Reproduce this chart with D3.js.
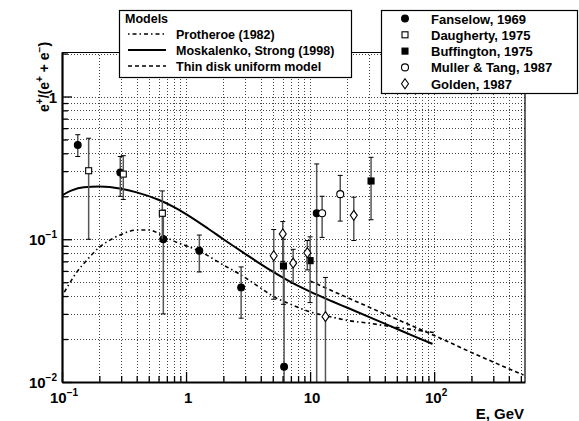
<!DOCTYPE html>
<html>
<head>
<meta charset="utf-8">
<script src="https://cdn.jsdelivr.net/npm/d3@7"></script>
<style>
body { margin: 0; background: #fff; }
svg text { font-family: "Liberation Sans", Arial, Helvetica, sans-serif; font-weight: bold; fill: #000; }
</style>
</head>
<body>
<div id="chart"></div>
<script>
'use strict';

// measured points: [E (GeV), ratio, lower end of error bar, upper end of error bar]
var fanselow = [
    [0.134, 0.457, 0.38, 0.54],
    [0.295, 0.294, 0.20, 0.38],
    [0.656, 0.100, 0.030, 0.16],
    [1.28, 0.083, 0.059, 0.107],
    [2.78, 0.046, 0.028, 0.064],
    [6.17, 0.0128, 0.005, 0.065],
    [11.3, 0.152, 0.005, 0.337]
];
var daugherty = [
    [0.164, 0.302, 0.10, 0.51],
    [0.312, 0.286, 0.19, 0.385],
    [0.644, 0.152, 0.10, 0.218]
];
var buffington = [
    [6.1, 0.065, 0.035, 0.10],
    [10.0, 0.0708, 0.036, 0.104],
    [31, 0.256, 0.137, 0.375]
];
var muller = [
    [12.5, 0.152, 0.103, 0.20],
    [17.5, 0.207, 0.134, 0.28]
];
var golden = [
    [5.09, 0.0767, 0.038, 0.117],
    [6.02, 0.109, 0.07, 0.133],
    [7.3, 0.068, 0.049, 0.085],
    [9.5, 0.0805, 0.061, 0.098],
    [13.3, 0.0287, 0.005, 0.054],
    [22.5, 0.147, 0.098, 0.197]
];

// model curves
var protheroeE = [0.1, 0.11, 0.13, 0.16, 0.2, 0.25, 0.3, 0.4, 0.5, 0.65, 0.8, 1, 1.3, 2, 2.7, 4, 5, 7, 10, 15, 20, 30, 44, 60, 80, 100];
var protheroeR = [0.040, 0.046, 0.058, 0.072, 0.088, 0.1, 0.108, 0.116, 0.116, 0.106, 0.097, 0.09, 0.082, 0.066, 0.057, 0.0455, 0.040, 0.035, 0.031, 0.0285, 0.027, 0.0258, 0.0245, 0.0236, 0.0228, 0.0222];
var moskalenkoE = [0.1, 0.12, 0.15, 0.2, 0.3, 0.4, 0.6, 0.8, 1, 1.5, 2, 3, 4, 5, 7, 10, 15, 20, 44, 70, 97];
var moskalenkoR = [0.203, 0.220, 0.231, 0.234, 0.226, 0.213, 0.189, 0.168, 0.150, 0.119, 0.1, 0.079, 0.067, 0.0593, 0.0501, 0.043, 0.0368, 0.0331, 0.0247, 0.0208, 0.0185];
var thinDiskE = [10, 20, 50, 100, 200, 525];
var thinDiskR = [0.051, 0.039, 0.0275, 0.0212, 0.0161, 0.0112];

var xMajor = [0.1, 1, 10, 100];
var xTickLabels = ['10^−1', '1', '10', '10^2'];
var yMajor = [0.01, 0.1, 1];
var yTickLabels = ['10^−2', '10^−1', '1'];

var modelNames = ['Protheroe (1982)', 'Moskalenko, Strong (1998)', 'Thin disk uniform model'];
var dataNames = ['Fanselow, 1969', 'Daugherty, 1975', 'Buffington, 1975', 'Muller & Tang, 1987', 'Golden, 1987'];

var myApp = {};

myApp.width = 579;
myApp.height = 421;
myApp.margins = {top: 52, bottom: 39, left: 62, right: 54};
myApp.cw = myApp.width - myApp.margins.left - myApp.margins.right;
myApp.ch = myApp.height - myApp.margins.top - myApp.margins.bottom;

myApp.x = d3.scaleLog().domain([0.1, 540]).range([0, myApp.cw]);
myApp.y = d3.scaleLog().domain([0.01, 2.05]).range([myApp.ch, 0]);

myApp.minorTicks = function(domain)
{
    var out = [];
    for (var p = Math.floor(Math.log10(domain[0])); p <= Math.ceil(Math.log10(domain[1])); p++) {
        for (var m = 2; m <= 9; m++) {
            var v = m * Math.pow(10, p);
            if (v > domain[0] && v < domain[1]) out.push(v);
        }
    }
    return out;
}

myApp.appendSvg = function(div)
{
    var svg = d3.select(div).append('svg')
        .attr('width', myApp.width)
        .attr('height', myApp.height);
    svg.append('defs').append('clipPath').attr('id', 'plotClip')
        .append('rect').attr('width', myApp.cw).attr('height', myApp.ch);
    myApp.svg = svg;
    return svg;
}

myApp.appendPlotGroup = function(svg)
{
    var plot = svg.append('g')
        .attr('transform', 'translate(' + myApp.margins.left + ',' + myApp.margins.top + ')');
    myApp.plot = plot;
    return plot;
}

myApp.drawGrid = function(plot)
{
    var x = myApp.x, y = myApp.y;
    var xs = xMajor.concat(myApp.minorTicks(x.domain())).filter(function(v){ return v > 0.1; });
    var ys = yMajor.concat(myApp.minorTicks(y.domain())).filter(function(v){ return v > 0.01; });
    var g = plot.append('g').attr('class', 'grid')
        .style('stroke', '#444').style('stroke-width', 1).style('stroke-dasharray', '1,2');
    g.selectAll('line.gx').data(xs).enter().append('line')
        .attr('x1', function(d){ return Math.round(x(d)) + 0.5; })
        .attr('x2', function(d){ return Math.round(x(d)) + 0.5; })
        .attr('y1', 0).attr('y2', myApp.ch);
    g.selectAll('line.gy').data(ys).enter().append('line')
        .attr('y1', function(d){ return Math.round(y(d)) + 0.5; })
        .attr('y2', function(d){ return Math.round(y(d)) + 0.5; })
        .attr('x1', 0).attr('x2', myApp.cw);
}

myApp.drawCurve = function(plot, es, rs, dash, width)
{
    var pts = es.map(function(e, i){ return [e, rs[i]]; });
    var line = d3.line()
        .x(function(d){ return myApp.x(d[0]); })
        .y(function(d){ return myApp.y(d[1]); })
        .curve(d3.curveMonotoneX);
    plot.append('path')
        .datum(pts)
        .attr('clip-path', 'url(#plotClip)')
        .attr('d', line)
        .style('fill', 'none')
        .style('stroke', '#000')
        .style('stroke-width', width)
        .style('stroke-dasharray', dash);
}

myApp.drawMarker = function(g, type, cx, cy)
{
    if (type === 'fcircle' || type === 'ocircle') {
        g.append('circle').attr('cx', cx).attr('cy', cy)
            .attr('r', type === 'fcircle' ? 3.4 : 3.5)
            .style('fill', type === 'fcircle' ? '#000' : '#fff')
            .style('stroke', '#000').style('stroke-width', 1.1);
    } else if (type === 'fsquare' || type === 'osquare') {
        g.append('rect').attr('x', cx - 3).attr('y', cy - 3)
            .attr('width', 6).attr('height', 6)
            .style('fill', type === 'fsquare' ? '#000' : '#fff')
            .style('stroke', '#000').style('stroke-width', 1.1);
    } else {
        g.append('path')
            .attr('d', 'M' + cx + ',' + (cy - 5) + 'L' + (cx + 3.5) + ',' + cy +
                       'L' + cx + ',' + (cy + 5) + 'L' + (cx - 3.5) + ',' + cy + 'Z')
            .style('fill', '#fff').style('stroke', '#000').style('stroke-width', 1.1);
    }
}

myApp.drawSeries = function(plot, data, type)
{
    var x = myApp.x, y = myApp.y;
    var bars = plot.append('g').attr('clip-path', 'url(#plotClip)');
    data.forEach(function(d){
        var px = x(d[0]);
        bars.append('line')
            .attr('x1', px).attr('x2', px)
            .attr('y1', y(d[2])).attr('y2', y(d[3]))
            .style('stroke', '#555').style('stroke-width', 1.5);
        [d[2], d[3]].forEach(function(v){
            bars.append('line')
                .attr('x1', px - 2.5).attr('x2', px + 2.5)
                .attr('y1', y(v)).attr('y2', y(v))
                .style('stroke', '#000').style('stroke-width', 1);
        });
    });
    var marks = plot.append('g');
    data.forEach(function(d){
        myApp.drawMarker(marks, type, x(d[0]), y(d[1]));
    });
}

myApp.powerLabel = function(text, label)
{
    var parts = label.split('^');
    text.append('tspan').text(parts[0]);
    if (parts.length > 1) {
        text.append('tspan').attr('dy', -7).style('font-size', '10px').text(parts[1]);
    }
}

myApp.drawAxes = function(plot)
{
    var x = myApp.x, y = myApp.y;

    var gx = plot.append('g').attr('transform', 'translate(0,' + myApp.ch + ')');
    gx.call(d3.axisBottom(x).tickValues(xMajor).tickSize(-10).tickSizeOuter(0).tickFormat(''));
    gx.append('g').call(d3.axisBottom(x).tickValues(myApp.minorTicks(x.domain())).tickSize(-6).tickSizeOuter(0).tickFormat(''))
        .select('.domain').remove();
    gx.selectAll('.domain').style('stroke-width', 2.2);
    gx.selectAll('.tick line').style('stroke-width', 1.3);

    var gy = plot.append('g');
    gy.call(d3.axisLeft(y).tickValues(yMajor).tickSize(-10).tickSizeOuter(0).tickFormat(''));
    gy.append('g').call(d3.axisLeft(y).tickValues(myApp.minorTicks(y.domain())).tickSize(-6).tickSizeOuter(0).tickFormat(''))
        .select('.domain').remove();
    gy.selectAll('.domain').style('stroke-width', 2.2);
    gy.selectAll('.tick line').style('stroke-width', 1.3);

    xMajor.forEach(function(v, i){
        var t = plot.append('text')
            .attr('x', x(v) + 2).attr('y', myApp.ch + 21)
            .attr('text-anchor', 'middle')
            .style('font-size', '15px');
        myApp.powerLabel(t, xTickLabels[i]);
    });
    yMajor.forEach(function(v, i){
        var t = plot.append('text')
            .attr('x', -5).attr('y', y(v) + 6)
            .attr('text-anchor', 'end')
            .style('font-size', '15px');
        myApp.powerLabel(t, yTickLabels[i]);
    });

    // frame top and right
    plot.append('path')
        .attr('d', 'M0,0.5H' + myApp.cw + 'V' + myApp.ch)
        .style('fill', 'none').style('stroke', '#000').style('stroke-width', 1.2);

    plot.append('text')
        .attr('x', myApp.cw - 1).attr('y', myApp.ch + 37)
        .attr('text-anchor', 'end')
        .style('font-size', '15px')
        .text('E, GeV');

    var yt = plot.append('text')
        .attr('transform', 'translate(-13,60) rotate(-90)')
        .attr('text-anchor', 'start')
        .style('font-size', '14px');
    yt.append('tspan').text('e');
    yt.append('tspan').attr('dy', -6).style('font-size', '10px').text('+');
    yt.append('tspan').attr('dy', 6).text('/(e');
    yt.append('tspan').attr('dy', -6).style('font-size', '10px').text('+');
    yt.append('tspan').attr('dy', 6).text(' + e');
    yt.append('tspan').attr('dy', -6).style('font-size', '10px').text('−');
    yt.append('tspan').attr('dy', 6).text(')');
}

myApp.drawLegends = function(svg)
{
    var models = svg.append('g').attr('transform', 'translate(119,10)');
    models.append('rect').attr('x', 0.5).attr('y', 0.5).attr('width', 232).attr('height', 67)
        .style('fill', '#fff').style('stroke', '#000').style('stroke-width', 1.2);
    models.append('text').attr('x', 6).attr('y', 13).style('font-size', '12.5px').text('Models');
    var styles = [{dash: '1.5,3,4,3', w: 1.6}, {dash: null, w: 2}, {dash: '4,3', w: 1.6}];
    modelNames.forEach(function(name, i){
        var cy = 24 + i * 16;
        models.append('line').attr('x1', 9).attr('x2', 47).attr('y1', cy).attr('y2', cy)
            .style('stroke', '#000').style('stroke-width', styles[i].w)
            .style('stroke-dasharray', styles[i].dash);
        models.append('text').attr('x', 57).attr('y', cy + 4.5).style('font-size', '12.5px').text(name);
    });

    var dataBox = svg.append('g').attr('transform', 'translate(381,10)');
    dataBox.append('rect').attr('x', 0.5).attr('y', 0.5).attr('width', 196).attr('height', 83)
        .style('fill', '#fff').style('stroke', '#000').style('stroke-width', 1.2);
    var types = ['fcircle', 'osquare', 'fsquare', 'ocircle', 'odiamond'];
    dataNames.forEach(function(name, i){
        var cy = 8.5 + i * 16.3;
        myApp.drawMarker(dataBox, types[i], 24, cy);
        dataBox.append('text').attr('x', 50).attr('y', cy + 5).style('font-size', '13px').text(name);
    });
}

myApp.run = function()
{
    var svg = myApp.appendSvg('#chart');
    var plot = myApp.appendPlotGroup(svg);
    myApp.drawGrid(plot);
    myApp.drawCurve(plot, protheroeE, protheroeR, '1.5,3,4,3', 1.6);
    myApp.drawCurve(plot, moskalenkoE, moskalenkoR, null, 2);
    myApp.drawCurve(plot, thinDiskE, thinDiskR, '4,3', 1.6);
    myApp.drawSeries(plot, fanselow, 'fcircle');
    myApp.drawSeries(plot, daugherty, 'osquare');
    myApp.drawSeries(plot, buffington, 'fsquare');
    myApp.drawSeries(plot, muller, 'ocircle');
    myApp.drawSeries(plot, golden, 'odiamond');
    myApp.drawAxes(plot);
    myApp.drawLegends(svg);
}

myApp.run();
</script>
</body>
</html>
